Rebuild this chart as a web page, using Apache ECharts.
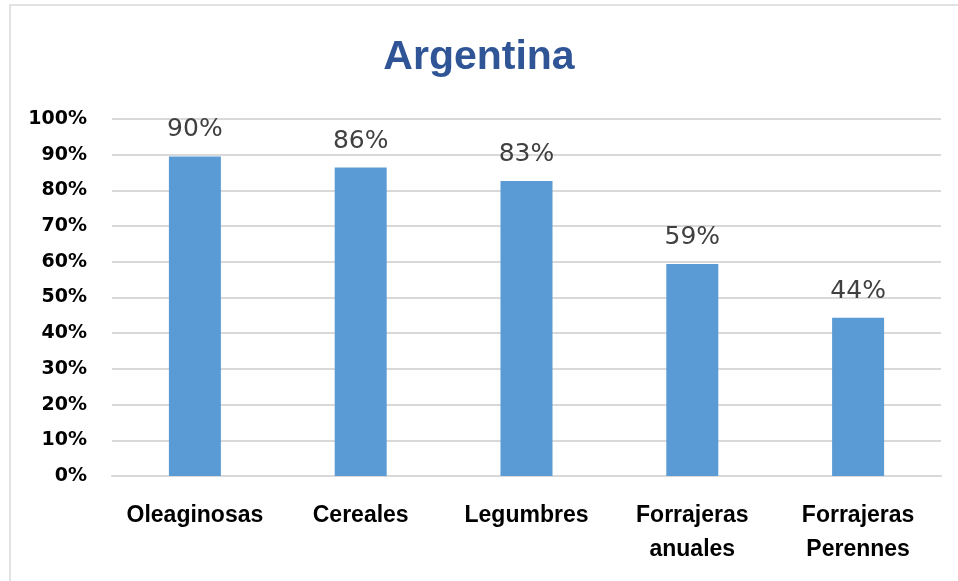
<!DOCTYPE html>
<html><head><meta charset="utf-8">
<script src="https://cdn.jsdelivr.net/npm/echarts@6/dist/echarts.min.js"></script>
<style>html,body{margin:0;padding:0;background:#fff}#c{width:958px;height:581px}</style>
</head><body><div id="c"></div>
<script>
const title = 'Argentina';
const categories = ['Oleaginosas', 'Cereales', 'Legumbres', 'Forrajeras\nanuales', 'Forrajeras\nPerennes'];
const values = [0.895, 0.864, 0.826, 0.594, 0.443];
const yTicks = [0, 0.1, 0.2, 0.3, 0.4, 0.5, 0.6, 0.7, 0.8, 0.9, 1.0];

const chart = echarts.init(document.getElementById('c'));
chart.setOption({
  animation: false,
  graphic: [{type: 'rect', shape: {x: 10, y: 5, width: 960, height: 590}, style: {fill: 'none', stroke: '#d9d9d9', lineWidth: 1.5}, silent: true}],
  title: {text: title, left: 'center', top: 32,
    textStyle: {fontFamily: 'Liberation Sans', fontWeight: 'bold', fontSize: 41, color: '#2f5597'}},
  grid: {left: 112, right: 17, top: 119, bottom: 105, containLabel: false},
  xAxis: {type: 'category', data: categories,
    axisLine: {lineStyle: {color: '#d9d9d9', width: 2}}, axisTick: {show: false},
    axisLabel: {margin: 23, fontFamily: 'Liberation Sans', fontWeight: 'bold', fontSize: 23, color: '#000', lineHeight: 34, interval: 0}},
  yAxis: {type: 'value', min: yTicks[0], max: yTicks[yTicks.length - 1], interval: 0.1,
    splitLine: {lineStyle: {color: '#d9d9d9', width: 2}},
    axisLine: {show: false}, axisTick: {show: false},
    axisLabel: {margin: 25, fontFamily: 'DejaVu Sans', fontWeight: 'bold', fontSize: 19, color: '#000',
      formatter: v => Math.round(v * 100) + '%'}},
  series: [{type: 'bar', data: values, barWidth: 52,
    itemStyle: {color: '#5b9bd5'},
    label: {show: true, position: 'top', distance: 14, fontFamily: 'DejaVu Sans', fontWeight: 500, fontSize: 25, color: '#404040',
      formatter: p => Math.round(p.value * 100) + '%'}}]
});
</script></body></html>
